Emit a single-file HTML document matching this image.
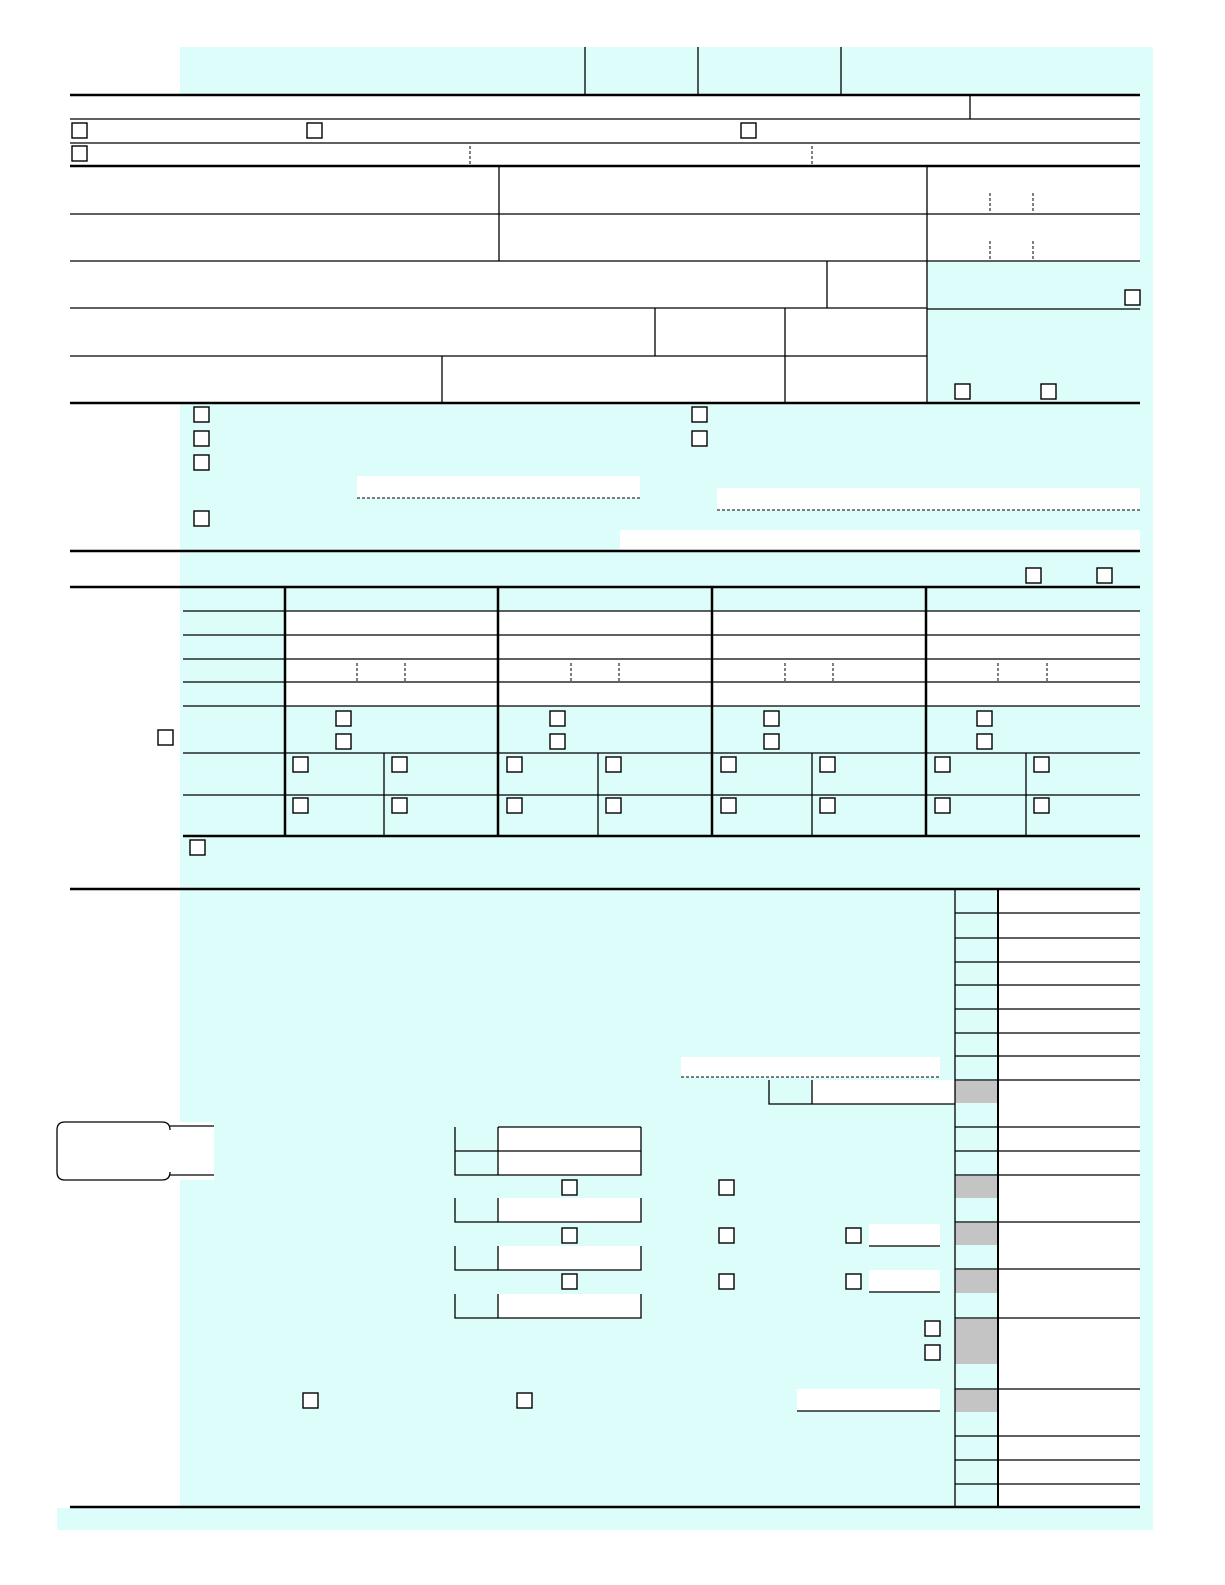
<!DOCTYPE html>
<html><head><meta charset="utf-8"><style>html,body{margin:0;padding:0;background:#fff}svg{display:block}</style></head>
<body>
<svg width="1225" height="1585" viewBox="0 0 1225 1585" xmlns="http://www.w3.org/2000/svg">
<g fill="#dcfdf9">
<rect x="180" y="47" width="973" height="1483"/>
<rect x="57" y="1508" width="1096" height="22"/>
</g>
<g fill="#fff">
<rect x="70" y="96" width="1070" height="307"/>
<rect x="285" y="611" width="855" height="95"/>
<rect x="998" y="889" width="142" height="619"/>
<rect x="357" y="476" width="283" height="22"/>
<rect x="717" y="488" width="423" height="22"/>
<rect x="620" y="530" width="520" height="20"/>
<rect x="681" y="1057" width="259" height="20"/>
<rect x="812" y="1080" width="143" height="24"/>
<rect x="498" y="1127" width="143" height="48"/>
<rect x="498" y="1198" width="143" height="24"/>
<rect x="498" y="1246" width="143" height="24"/>
<rect x="498" y="1294" width="143" height="24"/>
<rect x="869" y="1224" width="71" height="22"/>
<rect x="869" y="1270" width="71" height="22"/>
<rect x="797" y="1389" width="143" height="22"/>
<rect x="57" y="1122" width="157" height="58"/>
</g>
<g fill="#dcfdf9"><rect x="927" y="262" width="213" height="141"/></g>
<g fill="#c4c4c4">
<rect x="955" y="1081" width="43" height="22"/>
<rect x="955" y="1176" width="43" height="22"/>
<rect x="955" y="1223" width="43" height="22"/>
<rect x="955" y="1270" width="43" height="23"/>
<rect x="955" y="1319" width="43" height="45"/>
<rect x="955" y="1390" width="43" height="22"/>
</g>
<g stroke="#000" fill="none">
<!-- thick lines -->
<g stroke-width="2.5">
<line x1="70" y1="95" x2="1140" y2="95"/>
<line x1="70" y1="166" x2="1140" y2="166"/>
<line x1="70" y1="403" x2="1140" y2="403"/>
<line x1="70" y1="551" x2="1140" y2="551"/>
<line x1="70" y1="587" x2="1140" y2="587"/>
<line x1="183" y1="836" x2="1140" y2="836"/>
<line x1="70" y1="889" x2="1140" y2="889"/>
<line x1="70" y1="1507" x2="1140" y2="1507"/>
<line x1="285" y1="587" x2="285" y2="836"/>
<line x1="498" y1="587" x2="498" y2="836"/>
<line x1="712" y1="587" x2="712" y2="836"/>
<line x1="926" y1="587" x2="926" y2="836"/>
</g>
<g stroke-width="1.3">
<line x1="585" y1="47" x2="585" y2="95"/>
<line x1="698" y1="47" x2="698" y2="95"/>
<line x1="841" y1="47" x2="841" y2="95"/>
<line x1="70" y1="119" x2="1140" y2="119"/>
<line x1="970" y1="95" x2="970" y2="119"/>
<line x1="70" y1="143" x2="1140" y2="143"/>
<line x1="70" y1="214" x2="1140" y2="214"/>
<line x1="70" y1="261" x2="1140" y2="261"/>
<line x1="499" y1="166" x2="499" y2="261"/>
<line x1="927" y1="166" x2="927" y2="403"/>
<line x1="70" y1="308" x2="927" y2="308"/>
<line x1="927" y1="309" x2="1140" y2="309"/>
<line x1="827" y1="261" x2="827" y2="308"/>
<line x1="70" y1="356" x2="927" y2="356"/>
<line x1="655" y1="308" x2="655" y2="356"/>
<line x1="785" y1="308" x2="785" y2="403"/>
<line x1="442" y1="356" x2="442" y2="403"/>
<!-- dependents -->
<line x1="183" y1="611" x2="1140" y2="611"/>
<line x1="183" y1="635" x2="1140" y2="635"/>
<line x1="183" y1="659" x2="1140" y2="659"/>
<line x1="183" y1="682" x2="1140" y2="682"/>
<line x1="183" y1="706" x2="1140" y2="706"/>
<line x1="183" y1="753" x2="1140" y2="753"/>
<line x1="183" y1="795" x2="1140" y2="795"/>
<line x1="384" y1="753" x2="384" y2="836"/>
<line x1="598" y1="753" x2="598" y2="836"/>
<line x1="812" y1="753" x2="812" y2="836"/>
<line x1="1026" y1="753" x2="1026" y2="836"/>
<!-- right column -->
<line x1="955" y1="889" x2="955" y2="1507"/>
<line x1="998" y1="889" x2="998" y2="1507" stroke-width="2"/>
<line x1="955" y1="913" x2="1140" y2="913"/>
<line x1="955" y1="938" x2="1140" y2="938"/>
<line x1="955" y1="962" x2="1140" y2="962"/>
<line x1="955" y1="985" x2="1140" y2="985"/>
<line x1="955" y1="1009" x2="1140" y2="1009"/>
<line x1="955" y1="1033" x2="1140" y2="1033"/>
<line x1="955" y1="1056" x2="1140" y2="1056"/>
<line x1="955" y1="1080" x2="1140" y2="1080"/>
<line x1="955" y1="1127" x2="1140" y2="1127"/>
<line x1="955" y1="1151" x2="1140" y2="1151"/>
<line x1="955" y1="1175" x2="1140" y2="1175"/>
<line x1="955" y1="1222" x2="1140" y2="1222"/>
<line x1="955" y1="1269" x2="1140" y2="1269"/>
<line x1="955" y1="1318" x2="1140" y2="1318"/>
<line x1="955" y1="1389" x2="1140" y2="1389"/>
<line x1="955" y1="1436" x2="1140" y2="1436"/>
<line x1="955" y1="1460" x2="1140" y2="1460"/>
<line x1="955" y1="1484" x2="1140" y2="1484"/>
<!-- left middle -->
<polyline points="769,1080 769,1104 955,1104"/>
<line x1="812" y1="1080" x2="812" y2="1104"/>
<line x1="498" y1="1127" x2="641" y2="1127"/>
<polyline points="455,1127 455,1175 641,1175 641,1127"/>
<line x1="455" y1="1151" x2="641" y2="1151"/>
<line x1="498" y1="1127" x2="498" y2="1175"/>
<polyline points="455,1198 455,1222 641,1222 641,1198"/><line x1="498" y1="1198" x2="498" y2="1222"/>
<polyline points="455,1246 455,1270 641,1270 641,1246"/><line x1="498" y1="1246" x2="498" y2="1270"/>
<polyline points="455,1294 455,1318 641,1318 641,1294"/><line x1="498" y1="1294" x2="498" y2="1318"/>
<line x1="869" y1="1246" x2="940" y2="1246"/>
<line x1="869" y1="1292" x2="940" y2="1292"/>
<line x1="797" y1="1411" x2="940" y2="1411"/>
<!-- tab -->
<path d="M170,1126 L214,1126 M170,1175 L214,1175 M170,1130 Q170,1122 162,1122 L65,1122 Q57,1122 57,1130 L57,1172 Q57,1180 65,1180 L162,1180 Q170,1180 170,1172"/>
</g>
<g stroke-dasharray="3,2">
<line x1="470" y1="146" x2="470" y2="166"/>
<line x1="812" y1="146" x2="812" y2="166"/>
<line x1="990" y1="193" x2="990" y2="213"/><line x1="1033" y1="193" x2="1033" y2="213"/>
<line x1="990" y1="241" x2="990" y2="261"/><line x1="1033" y1="241" x2="1033" y2="261"/>
<line x1="357" y1="663" x2="357" y2="682"/><line x1="405" y1="663" x2="405" y2="682"/>
<line x1="571" y1="663" x2="571" y2="682"/><line x1="619" y1="663" x2="619" y2="682"/>
<line x1="785" y1="663" x2="785" y2="682"/><line x1="833" y1="663" x2="833" y2="682"/>
<line x1="998" y1="663" x2="998" y2="682"/><line x1="1047" y1="663" x2="1047" y2="682"/>
<line x1="357" y1="498" x2="640" y2="498"/>
<line x1="717" y1="510" x2="1140" y2="510"/>
<line x1="681" y1="1077" x2="940" y2="1077"/>
</g>
</g>
<g stroke="#000" stroke-width="1.4" fill="#fff">
<rect x="72" y="123" width="15" height="15"/><rect x="307" y="123" width="15" height="15"/><rect x="741" y="123" width="15" height="15"/>
<rect x="72" y="146" width="15" height="15"/>
<rect x="1125" y="290" width="15" height="15"/>
<rect x="955" y="384" width="15" height="15"/><rect x="1041" y="384" width="15" height="15"/>
<rect x="194" y="407" width="15" height="15"/><rect x="194" y="431" width="15" height="15"/><rect x="194" y="455" width="15" height="15"/><rect x="194" y="511" width="15" height="15"/>
<rect x="692" y="407" width="15" height="15"/><rect x="692" y="431" width="15" height="15"/>
<rect x="1026" y="568" width="15" height="15"/><rect x="1097" y="568" width="15" height="15"/>
<rect x="336" y="711" width="15" height="15"/><rect x="336" y="734" width="15" height="15"/>
<rect x="550" y="711" width="15" height="15"/><rect x="550" y="734" width="15" height="15"/>
<rect x="764" y="711" width="15" height="15"/><rect x="764" y="734" width="15" height="15"/>
<rect x="977" y="711" width="15" height="15"/><rect x="977" y="734" width="15" height="15"/>
<rect x="158" y="730" width="15" height="15"/>
<rect x="293" y="757" width="15" height="15"/><rect x="392" y="757" width="15" height="15"/><rect x="507" y="757" width="15" height="15"/><rect x="606" y="757" width="15" height="15"/>
<rect x="721" y="757" width="15" height="15"/><rect x="820" y="757" width="15" height="15"/><rect x="935" y="757" width="15" height="15"/><rect x="1034" y="757" width="15" height="15"/>
<rect x="293" y="798" width="15" height="15"/><rect x="392" y="798" width="15" height="15"/><rect x="507" y="798" width="15" height="15"/><rect x="606" y="798" width="15" height="15"/>
<rect x="721" y="798" width="15" height="15"/><rect x="820" y="798" width="15" height="15"/><rect x="935" y="798" width="15" height="15"/><rect x="1034" y="798" width="15" height="15"/>
<rect x="190" y="840" width="15" height="15"/>
<rect x="562" y="1180" width="15" height="15"/><rect x="719" y="1180" width="15" height="15"/>
<rect x="562" y="1228" width="15" height="15"/><rect x="719" y="1228" width="15" height="15"/><rect x="846" y="1228" width="15" height="15"/>
<rect x="562" y="1274" width="15" height="15"/><rect x="719" y="1274" width="15" height="15"/><rect x="846" y="1274" width="15" height="15"/>
<rect x="925" y="1321" width="15" height="15"/><rect x="925" y="1345" width="15" height="15"/>
<rect x="303" y="1393" width="15" height="15"/><rect x="517" y="1393" width="15" height="15"/>
</g>
</svg>
</body></html>
